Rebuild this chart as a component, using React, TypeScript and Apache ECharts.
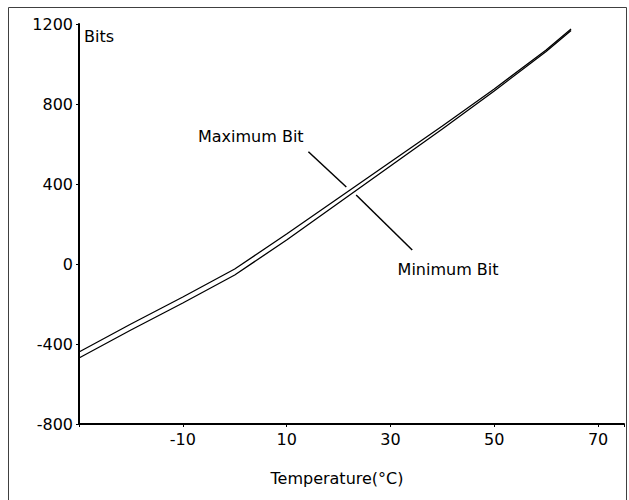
import React, { useEffect, useRef } from "react";
import * as echarts from "echarts";

// Temperature (°C) sample points
const temps = [-30, -20, -10, 0, 10, 20, 30, 40, 50, 60, 64.8];
// Upper curve (Maximum Bit)
const maxBits = [-440, -300, -165, -25, 150, 330, 510, 690, 875, 1070, 1175];
// Lower curve (Minimum Bit)
const minBits = [-470, -330, -195, -55, 120, 305, 490, 675, 865, 1062, 1168];

const yTicks = { min: -800, max: 1200, interval: 400 };
const xTicks = { min: -30, max: 75, interval: 20 };

// Annotation labels (data coordinates of label centre)
const annotations = [
  { name: "Maximum Bit", value: [3.1, 636] },
  { name: "Minimum Bit", value: [41.1, -25] },
];
// Leader lines (data coordinates)
const leaders = [
  [[14.2, 561], [21.5, 385]],
  [[23.4, 345], [34.2, 70]],
];

const FONT = "DejaVu Sans";

export default function App() {
  const ref = useRef<HTMLDivElement>(null);
  useEffect(() => {
    if (!ref.current) return;
    const chart = echarts.init(ref.current, undefined, { renderer: "svg" });
    chart.setOption({
      animation: false,
      backgroundColor: "#fff",
      textStyle: { fontFamily: FONT, color: "#000" },
      grid: { left: 79, right: 5, top: 24, bottom: 76, containLabel: false, outerBoundsMode: "none" },
      graphic: [
        {
          type: "rect",
          silent: true,
          z: -10,
          shape: { x: 8.5, y: 7.5, width: 618, height: 510 },
          style: { fill: "none", stroke: "#404040", lineWidth: 1 },
        },
      ],
      xAxis: {
        type: "value",
        min: xTicks.min,
        max: xTicks.max,
        interval: xTicks.interval,
        name: "Temperature(°C)",
        nameLocation: "middle",
        nameGap: 46,
        nameTextStyle: { fontFamily: FONT, fontSize: 16, color: "#000", padding: [0, 29, 0, 0] },
        axisLine: { onZero: false, lineStyle: { color: "#000", width: 2 } },
        axisTick: { length: 3, lineStyle: { color: "#000", width: 1 } },
        splitLine: { show: false },
        axisLabel: {
          color: "#000",
          fontFamily: FONT,
          fontSize: 16,
          margin: 7,
          formatter: (v: number) => (v === xTicks.min || v > 70 ? "" : String(v)),
        },
      },
      yAxis: {
        type: "value",
        min: yTicks.min,
        max: yTicks.max,
        interval: yTicks.interval,
        name: "Bits",
        nameLocation: "end",
        nameGap: -12,
        nameTextStyle: {
          fontFamily: FONT,
          fontSize: 16,
          color: "#000",
          align: "left",
          verticalAlign: "middle",
          padding: [0, 0, 0, 5],
        },
        axisLine: { show: true, onZero: false, lineStyle: { color: "#000", width: 2 } },
        axisTick: { show: true, length: 3, lineStyle: { color: "#000", width: 1 } },
        splitLine: { show: false },
        axisLabel: {
          color: "#000",
          fontFamily: FONT,
          fontSize: 16,
          margin: 6,
          formatter: (v: number) => String(v),
        },
      },
      series: [
        {
          name: "Maximum Bit",
          type: "line",
          data: temps.map((t, i) => [t, maxBits[i]]),
          symbol: "none",
          itemStyle: { color: "#000" },
          lineStyle: { color: "#000", width: 1.3 },
          silent: true,
        },
        {
          name: "Minimum Bit",
          type: "line",
          data: temps.map((t, i) => [t, minBits[i]]),
          symbol: "none",
          itemStyle: { color: "#000" },
          lineStyle: { color: "#000", width: 1.3 },
          silent: true,
        },
        {
          name: "annotations",
          type: "scatter",
          symbolSize: 0,
          silent: true,
          itemStyle: { color: "#000", opacity: 1 },
          data: annotations.map((a) => ({ name: a.name, value: a.value })),
          label: {
            show: true,
            position: "inside",
            formatter: "{b}",
            color: "#000",
            opacity: 1,
            textBorderWidth: 0,
            textBorderColor: "transparent",
            fontFamily: FONT,
            fontSize: 16,
          },
          markLine: {
            silent: true,
            symbol: ["none", "none"],
            label: { show: false },
            lineStyle: { color: "#000", width: 1.5, type: "solid", opacity: 1 },
            data: leaders.map((l) => [{ coord: l[0] }, { coord: l[1] }]),
          },
        },
      ],
    });
    return () => chart.dispose();
  }, []);
  return (
    <div
      ref={ref}
      style={{ position: "absolute", left: 0, top: 0, width: 629, height: 500 }}
    />
  );
}
